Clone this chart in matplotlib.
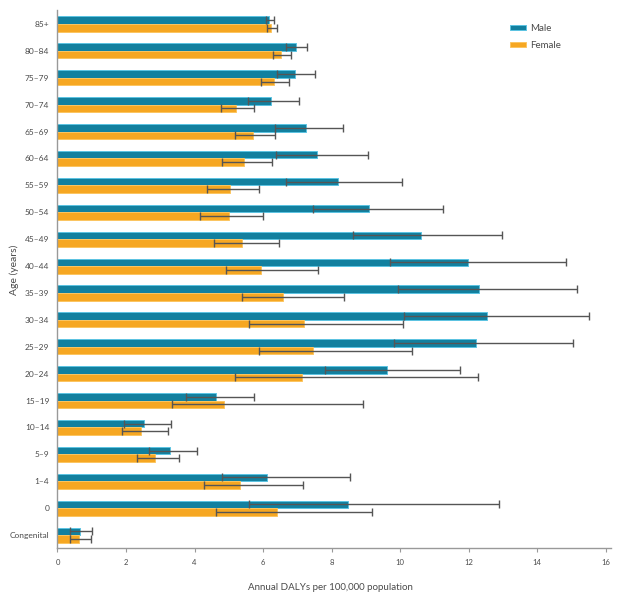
import matplotlib
matplotlib.use("Agg")
import matplotlib.pyplot as plt
import numpy as np

# bottom-to-top order (Congenital first)
categories = ["Congenital", "0", "1–4", "5–9", "10–14", "15–19", "20–24", "25–29",
              "30–34", "35–39", "40–44", "45–49", "50–54", "55–59", "60–64",
              "65–69", "70–74", "75–79", "80–84", "85+"]

male = [0.65, 8.47, 6.13, 3.27, 2.53, 4.62, 9.62, 12.22, 12.55, 12.32, 11.99,
        10.62, 9.10, 8.18, 7.57, 7.25, 6.22, 6.92, 6.95, 6.18]
male_lo = [0.37, 5.60, 4.80, 2.67, 1.95, 3.75, 7.81, 9.83, 10.13, 9.95, 9.71,
           8.64, 7.47, 6.67, 6.37, 6.34, 5.57, 6.42, 6.66, 6.09]
male_hi = [1.02, 12.89, 8.54, 4.06, 3.31, 5.74, 11.76, 15.06, 15.51, 15.16, 14.84,
           12.98, 11.25, 10.06, 9.07, 8.33, 7.05, 7.53, 7.29, 6.32]
female = [0.62, 6.41, 5.32, 2.86, 2.44, 4.87, 7.13, 7.47, 7.19, 6.57, 5.93,
          5.40, 5.01, 5.04, 5.45, 5.72, 5.22, 6.31, 6.52, 6.22]
female_lo = [0.37, 4.62, 4.28, 2.33, 1.89, 3.35, 5.19, 5.89, 5.60, 5.38, 4.91,
             4.58, 4.16, 4.36, 4.79, 5.19, 4.77, 5.95, 6.28, 6.11]
female_hi = [0.98, 9.19, 7.16, 3.56, 3.24, 8.93, 12.27, 10.34, 10.10, 8.36, 7.62,
             6.47, 5.99, 5.89, 6.25, 6.34, 5.74, 6.75, 6.82, 6.40]
xticks = [0, 2, 4, 6, 8, 10, 12, 14, 16]

plt.rcParams['font.family'] = ['Lato', 'DejaVu Sans']
text_color = "#4a4a4a"
axis_color = "#999999"
male_color = "#12809f"
male_edge = "#5cc4e2"
female_color = "#f6a722"
female_edge = "#fcc561"

fig = plt.figure(figsize=(6.28, 6.02), dpi=100)
ax_h_px = 547.7 - 10
ax_w_px = 611 - 57.5
ax = fig.add_axes([57.5/628, 1-547.7/602, ax_w_px/628, ax_h_px/602])

n = len(categories)
y = np.arange(n)
h = 0.28

ax.barh(y + h/2, male, height=h, color=male_color, edgecolor=male_edge, linewidth=0.7, label="Male")
ax.barh(y - h/2, female, height=h, color=female_color, edgecolor=female_edge, linewidth=0.7, label="Female")

m = np.array(male); f = np.array(female)
ax.errorbar(m, y + h/2, xerr=[m - np.array(male_lo), np.array(male_hi) - m],
            fmt='none', ecolor="#555555", elinewidth=1, capsize=3, capthick=1)
ax.errorbar(f, y - h/2, xerr=[f - np.array(female_lo), np.array(female_hi) - f],
            fmt='none', ecolor="#555555", elinewidth=1, capsize=3, capthick=1)

ax.set_xlim(0, 16.16)
ax.set_ylim(-0.47, n - 1 + 0.52)
ax.set_xticks(xticks)
ax.set_xticklabels([str(t) for t in xticks], fontsize=5.5, color=text_color)
ax.set_yticks(y)
ax.set_yticklabels(categories, fontsize=6, color=text_color)
ax.tick_params(axis='y', length=0, pad=6)
ax.tick_params(axis='x', length=3, color=axis_color, width=0.8, pad=5)

for s in ["top", "right"]:
    ax.spines[s].set_visible(False)
for s in ["left", "bottom"]:
    ax.spines[s].set_color(axis_color)
    ax.spines[s].set_linewidth(1)

ax.set_xlabel("Annual DALYs per 100,000 population", fontsize=7, color=text_color)
ax.xaxis.set_label_coords((330 - 57.5)/ax_w_px, (547.7 - 588)/ax_h_px)
ax.xaxis.label.set_va('center')
ax.set_ylabel("Age (years)", fontsize=7.5, color=text_color)
ax.yaxis.set_label_coords((14 - 57.5)/ax_w_px, (547.7 - 270)/ax_h_px)
ax.yaxis.label.set_va('center')

leg = ax.legend(loc="upper left", bbox_to_anchor=((510 - 57.5)/ax_w_px, 1 - 14/ax_h_px),
                frameon=False, fontsize=7, handlelength=1.6, handleheight=0.5,
                labelspacing=0.8, handletextpad=0.5, borderaxespad=0, borderpad=0)
for t in leg.get_texts():
    t.set_color(text_color)

fig.savefig("out.png", dpi=100)
